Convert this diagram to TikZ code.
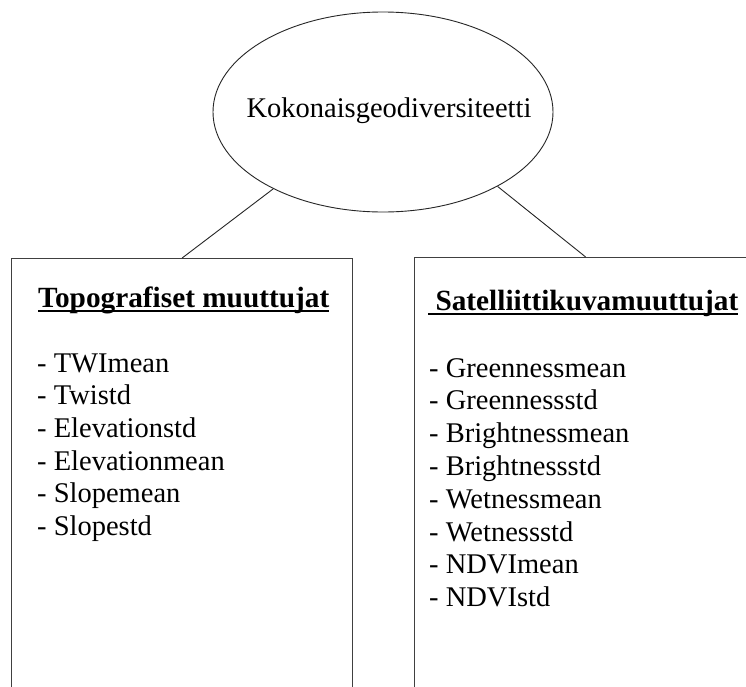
\documentclass[tikz,border=0pt]{standalone}
\usepackage{fontspec}
\setmainfont{Liberation Serif}
\usetikzlibrary{shapes.geometric}
\newcommand\ulword[1]{\setbox0\hbox{#1}\rlap{\rule[-4.6pt]{\wd0}{1.8pt}}\box0}
\tikzset{
  frame/.style={draw=black!75, line width=1.3pt, rectangle, inner sep=0pt, anchor=north west},
  oval/.style={draw=black!85, line width=0.9pt, ellipse, inner sep=0pt},
  link/.style={draw=black!85, line width=0.9pt},
  item/.style={anchor=base west, inner sep=0pt, font=\fontsize{28.5}{32.7}\selectfont},
  head/.style={anchor=base west, inner sep=0pt, font=\fontsize{29.3}{33}\selectfont\bfseries},
}
\begin{document}
\begin{tikzpicture}[x=1pt,y=-1pt]
\useasboundingbox (0,0) rectangle (746,686);
\clip (0,0) rectangle (746,686);
\fill[white] (0,0) rectangle (746,686);
\node[oval, minimum width=340pt, minimum height=200pt] (ell) at (383,112) {};
\node[anchor=base, inner sep=0pt, font=\fontsize{28.5}{32.7}\selectfont] (kok) at (389,117) {Kokonaisgeodiversiteetti};
\node[frame, minimum width=341pt, minimum height=480pt] (lbox) at (11,258) {};
\node[frame, minimum width=342pt, minimum height=480pt] (rbox) at (414,257) {};
\draw[link] (ell.215) -- (lbox.north);
\draw[link] (ell.327) -- (rbox.north);
\node[head] (lhead) at (38,307) {\ulword{Topografiset muuttujat}};
\node[head] (rhead) at (428,310) {\ulword{\ Satelliittikuvamuuttujat}};
\foreach \t [count=\i from 0] in {TWImean,Twistd,Elevationstd,Elevationmean,Slopemean,Slopestd}
  \node[item] (l\i) at (37,372+32.7*\i) {- \t};
\foreach \t [count=\i from 0] in {Greennessmean,Greennessstd,Brightnessmean,Brightnessstd,Wetnessmean,Wetnessstd,NDVImean,NDVIstd}
  \node[item] (r\i) at (429,377+32.8*\i) {- \t};
\end{tikzpicture}
\end{document}
